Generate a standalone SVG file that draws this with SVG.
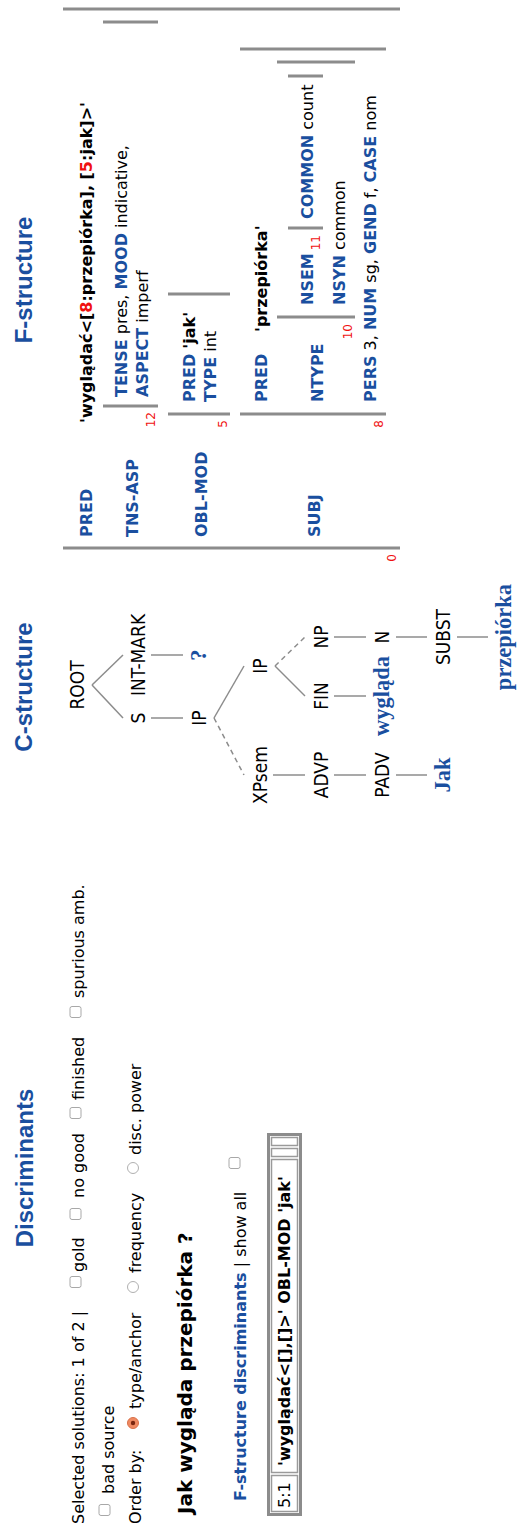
<svg xmlns="http://www.w3.org/2000/svg" width="517" height="1528" viewBox="0 0 517 1528">
  <style>
    .h { font-family: "Liberation Sans", Arial, sans-serif; font-weight: bold; font-size: 24px; fill: #1a4f9f; text-anchor: middle; }
    .t { font-family: "DejaVu Sans", Verdana, sans-serif; font-size: 16px; fill: #000; }
    .b { font-weight: bold; }
    .a { font-weight: bold; fill: #1a4f9f; }
    .r { fill: #f01010; }
    .cat { font-family: "DejaVu Sans Condensed", "DejaVu Sans", sans-serif; font-stretch: condensed; font-size: 19px; fill: #000; text-anchor: middle; }
    .leaf { font-family: "Liberation Serif", "Times New Roman", serif; font-weight: bold; font-size: 22.5px; fill: #1a4f9f; text-anchor: middle; }
    .idx { font-family: "DejaVu Sans", sans-serif; font-size: 12px; fill: #f01010; text-anchor: end; }
    .bar { stroke: #8c8c8c; stroke-width: 3; }
    .edge { stroke: #8c8c8c; stroke-width: 1.5; fill: none; }
    .dash { stroke-dasharray: 5 4; }
    .cb { fill: #fff; stroke: #a8a8a8; stroke-width: 1; }
    .rb { fill: #fff; stroke: #b0b0b0; stroke-width: 1; }
    .cell { fill: none; stroke: #9a9a9a; stroke-width: 1.5; }
  </style>

  <!-- page is laid out landscape and turned a quarter turn counter-clockwise -->
  <g transform="translate(0,1528) rotate(-90)">

    <!-- Discriminants panel -->
    <g id="discriminants">
      <text class="h" x="360" y="33">Discriminants</text>

      <text class="t" x="4" y="84">Selected solutions: 1 of 2 |</text>
      <rect class="cb" x="240.5" y="70" width="11" height="11" rx="2"/>
      <text class="t" x="256" y="84">gold</text>
      <rect class="cb" x="308.5" y="70" width="11" height="11" rx="2"/>
      <text class="t" x="330" y="84">no good</text>
      <rect class="cb" x="409.5" y="70" width="11" height="11" rx="2"/>
      <text class="t" x="428" y="84">finished</text>
      <rect class="cb" x="510.5" y="70" width="11" height="11" rx="2"/>
      <text class="t" x="530" y="84">spurious amb.</text>

      <rect class="cb" x="12.5" y="99" width="11" height="11" rx="2"/>
      <text class="t" x="34" y="114">bad source</text>

      <text class="t" x="4" y="141">Order by:</text>
      <circle cx="105" cy="133" r="5.5" fill="#f08a62" stroke="#d9714a" stroke-width="1"/>
      <circle cx="105" cy="133" r="2.2" fill="#7a2610"/>
      <text class="t" x="119" y="141">type/anchor</text>
      <circle class="rb" cx="241" cy="133" r="5.5"/>
      <text class="t" x="255" y="141">frequency</text>
      <circle class="rb" cx="360" cy="133" r="5.5"/>
      <text class="t" x="373" y="141">disc. power</text>

      <text class="t b" x="14" y="192" style="font-size:20px">Jak wygląda przepiórka ?</text>

      <text class="t" x="27" y="246"><tspan class="a">F-structure discriminants</tspan> | show all</text>
      <rect class="cb" x="359.5" y="229" width="11" height="11" rx="2"/>

      <!-- discriminant table -->
      <rect x="13.5" y="268.5" width="380" height="32" fill="none" stroke="#8c8c8c" stroke-width="3"/>
      <rect class="cell" x="16.5" y="271.5" width="36" height="26"/>
      <rect class="cell" x="55.5" y="271.5" width="313" height="26"/>
      <rect class="cell" x="371.5" y="271.5" width="8" height="26"/>
      <rect class="cell" x="382.5" y="271.5" width="8" height="26"/>
      <text class="t" x="20" y="290">5:1</text>
      <text class="t b" x="62" y="290">'wyglądać&lt;[],[]&gt;' OBL-MOD 'jak'</text>
    </g>

    <!-- C-structure panel -->
    <g id="c-structure">
      <text class="h" x="841" y="32">C-structure</text>

      <g id="c-edges">
        <line class="edge" x1="843" y1="92" x2="810" y2="123"/>
        <line class="edge" x1="843" y1="92" x2="873" y2="123"/>
        <line class="edge" x1="810" y1="151" x2="810" y2="183"/>
        <line class="edge" x1="873" y1="151" x2="873" y2="183"/>
        <line class="edge dash" x1="810" y1="214" x2="753" y2="244"/>
        <line class="edge" x1="810" y1="214" x2="862" y2="244"/>
        <line class="edge" x1="753" y1="273" x2="753" y2="305"/>
        <line class="edge" x1="753" y1="334" x2="753" y2="366"/>
        <line class="edge" x1="753" y1="396" x2="753" y2="427"/>
        <line class="edge" x1="862" y1="275" x2="832" y2="305"/>
        <line class="edge dash" x1="862" y1="275" x2="891" y2="305"/>
        <line class="edge" x1="832" y1="334" x2="832" y2="366"/>
        <line class="edge" x1="891" y1="334" x2="891" y2="366"/>
        <line class="edge" x1="891" y1="396" x2="891" y2="427"/>
        <line class="edge" x1="891" y1="457" x2="891" y2="488"/>
      </g>

      <g id="n-root"><text class="cat" x="843" y="84">ROOT</text></g>
      <g id="n-s"><text class="cat" x="810" y="145">S</text></g>
      <g id="n-intmark"><text class="cat" x="873" y="145">INT-MARK</text></g>
      <g id="n-ip1"><text class="cat" x="810" y="206">IP</text></g>
      <g id="n-q"><text class="leaf" x="873" y="206">?</text></g>
      <g id="n-xpsem"><text class="cat" x="753" y="267">XPsem</text></g>
      <g id="n-ip2"><text class="cat" x="862" y="267">IP</text></g>
      <g id="n-advp"><text class="cat" x="753" y="328">ADVP</text></g>
      <g id="n-fin"><text class="cat" x="832" y="328">FIN</text></g>
      <g id="n-np"><text class="cat" x="891" y="328">NP</text></g>
      <g id="n-padv"><text class="cat" x="753" y="389">PADV</text></g>
      <g id="n-wyglada"><text class="leaf" x="832" y="389">wygląda</text></g>
      <g id="n-n"><text class="cat" x="891" y="389">N</text></g>
      <g id="n-jak"><text class="leaf" x="753" y="450">Jak</text></g>
      <g id="n-subst"><text class="cat" x="891" y="450">SUBST</text></g>
      <g id="n-przepiorka"><text class="leaf" x="891" y="511">przepiórka</text></g>
    </g>

    <!-- F-structure panel -->
    <g id="f-structure">
      <text class="h" x="1248" y="32">F-structure</text>

      <g id="f0">
        <line class="bar" x1="980" y1="63" x2="980" y2="400"/>
        <line class="bar" x1="1519" y1="63" x2="1519" y2="400"/>
        <text class="idx" x="974" y="396">0</text>
        <text class="t a" x="991" y="92">PRED</text>
        <text class="t b" x="1105" y="92">'wyglądać&lt;[<tspan class="r">8</tspan>:przepiórka], [<tspan class="r">5</tspan>:jak]&gt;'</text>
        <text class="t a" x="991" y="138">TNS-ASP</text>
        <text class="t a" x="991" y="207">OBL-MOD</text>
        <text class="t a" x="991" y="320">SUBJ</text>
      </g>

      <g id="f12">
        <line class="bar" x1="1122" y1="103" x2="1122" y2="158"/>
        <line class="bar" x1="1506" y1="103" x2="1506" y2="158"/>
        <text class="idx" x="1116" y="155">12</text>
        <text class="t" x="1131" y="127"><tspan class="a">TENSE</tspan> pres, <tspan class="a">MOOD</tspan> indicative,</text>
        <text class="t" x="1131" y="148"><tspan class="a">ASPECT</tspan> imperf</text>
      </g>

      <g id="f5">
        <line class="bar" x1="1114" y1="168" x2="1114" y2="230"/>
        <line class="bar" x1="1234" y1="168" x2="1234" y2="230"/>
        <text class="idx" x="1108" y="227">5</text>
        <text class="t" x="1126" y="195"><tspan class="a">PRED</tspan> <tspan class="b">'jak'</tspan></text>
        <text class="t" x="1126" y="216"><tspan class="a">TYPE</tspan> int</text>
      </g>

      <g id="f8">
        <line class="bar" x1="1114" y1="240" x2="1114" y2="386"/>
        <line class="bar" x1="1479" y1="240" x2="1479" y2="386"/>
        <text class="idx" x="1108" y="383">8</text>
        <text class="t a" x="1126" y="267">PRED</text>
        <text class="t b" x="1196" y="267">'przepiórka'</text>
        <text class="t a" x="1126" y="323">NTYPE</text>
        <text class="t" x="1126" y="376"><tspan class="a">PERS</tspan> 3, <tspan class="a">NUM</tspan> sg, <tspan class="a">GEND</tspan> f, <tspan class="a">CASE</tspan> nom</text>
      </g>

      <g id="f10">
        <line class="bar" x1="1211" y1="277" x2="1211" y2="355"/>
        <line class="bar" x1="1466" y1="277" x2="1466" y2="355"/>
        <text class="idx" x="1204" y="352">10</text>
        <text class="t a" x="1223" y="313">NSEM</text>
        <text class="t" x="1223" y="345"><tspan class="a">NSYN</tspan> common</text>
      </g>

      <g id="f11">
        <line class="bar" x1="1300" y1="288" x2="1300" y2="323"/>
        <line class="bar" x1="1452" y1="288" x2="1452" y2="323"/>
        <text class="idx" x="1293" y="320">11</text>
        <text class="t" x="1309" y="313"><tspan class="a">COMMON</tspan> count</text>
      </g>
    </g>
  </g>
</svg>
